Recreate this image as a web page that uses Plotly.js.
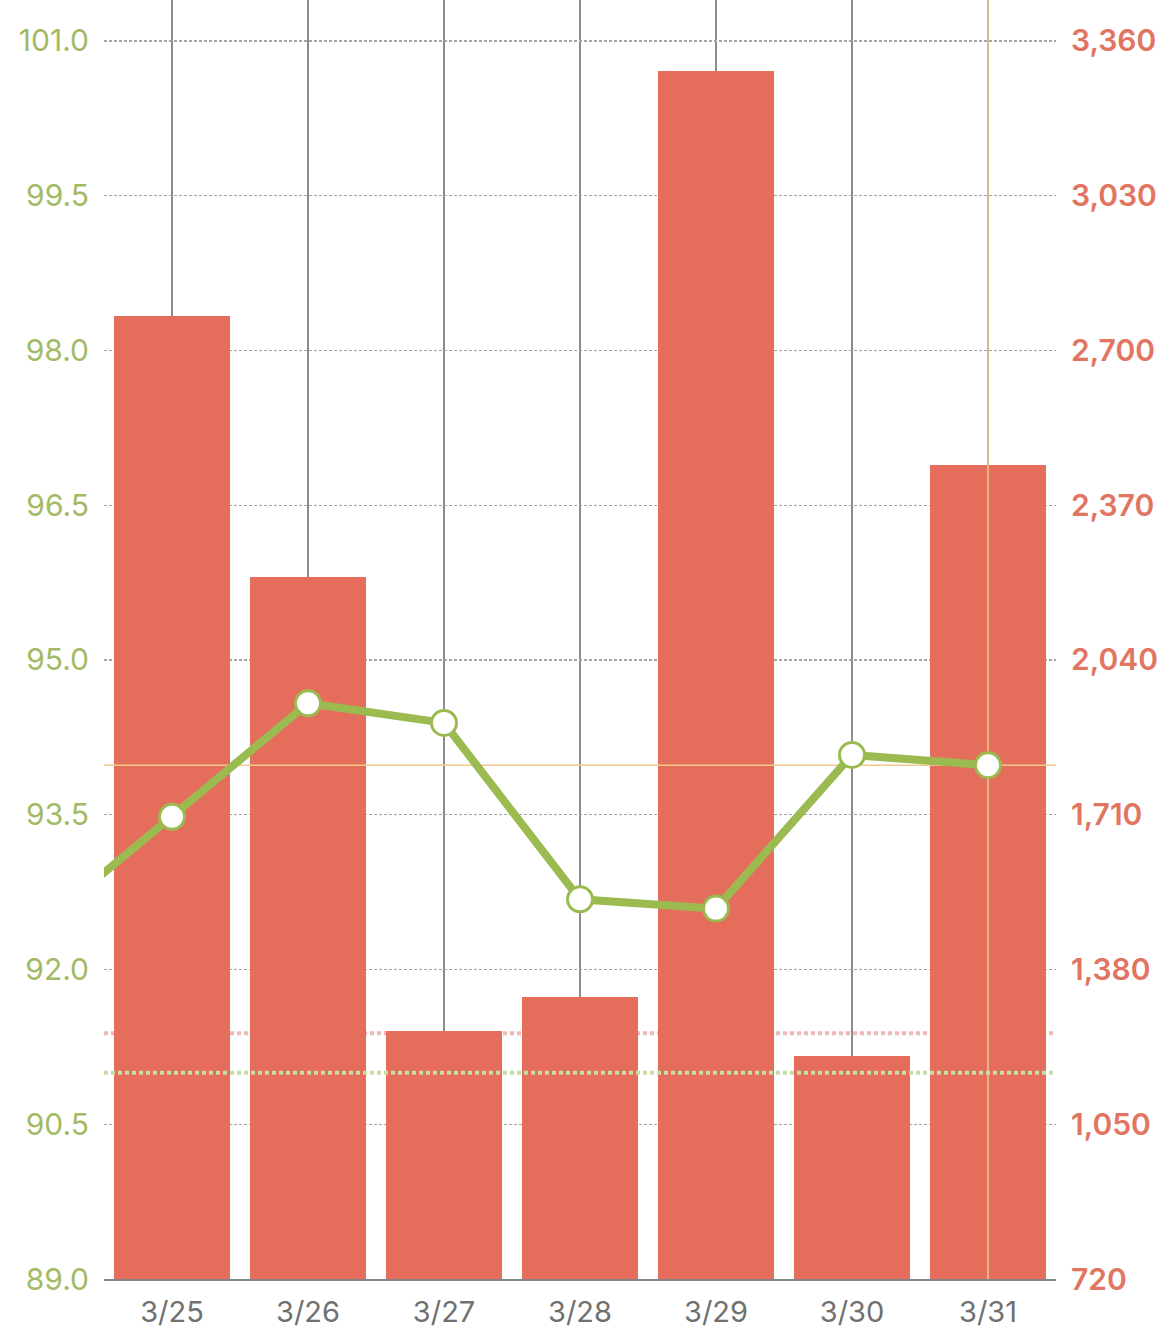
<!DOCTYPE html>
<html>
<head>
<meta charset="utf-8">
<script src="https://cdn.plot.ly/plotly-3.0.1.min.js"></script>
<style>
  html, body { margin: 0; padding: 0; background: #fff; }
  #plot { width: 1170px; height: 1341px; }
</style>
</head>
<body>
<div id="plot"></div>
<script>
// days shown on the axis, plus the day before (only its line segment peeks in)
const days = ['3/24', '3/25', '3/26', '3/27', '3/28', '3/29', '3/30', '3/31'];
const dayIndex = [-1, 0, 1, 2, 3, 4, 5, 6];

const calories = [null, 2774, 2217, 1249, 1321, 3296, 1196, 2456];
const weights = [92.39, 93.48, 94.58, 94.39, 92.68, 92.59, 94.08, 93.98];

const weightTicks = [89.0, 90.5, 92.0, 93.5, 95.0, 96.5, 98.0, 99.5, 101.0];
const calorieTicks = [720, 1050, 1380, 1710, 2040, 2370, 2700, 3030, 3360];

const calorieGoal = 1244;
const weightGoal = 91.0;

const selected = 7; // 3/31

const xRange = [-0.5, 6.5];
const weightRange = [89, 101.397];
const calorieRange = [720, 3447.4];

const green = 'rgb(155, 187, 80)';
const red = 'rgb(228, 110, 91)';
const cross = 'rgb(242, 200, 140)';

const bars = {
    x: dayIndex.slice(1),
    y: calories.slice(1),
    type: 'bar',
    width: 0.85,
    marker: { color: red, line: { width: 0 } },
    yaxis: 'y',
    hoverinfo: 'skip',
};

const crossV = {
    x: [dayIndex[selected], dayIndex[selected]],
    y: weightRange,
    mode: 'lines',
    line: { color: cross, width: 1.5 },
    yaxis: 'y2',
    hoverinfo: 'skip',
};

const crossH = {
    x: xRange,
    y: [weights[selected], weights[selected]],
    mode: 'lines',
    line: { color: cross, width: 1.5 },
    yaxis: 'y2',
    hoverinfo: 'skip',
};

const weightLine = {
    x: dayIndex,
    y: weights,
    mode: 'lines+markers',
    type: 'scatter',
    yaxis: 'y2',
    line: { color: green, width: 8 },
    marker: {
        color: '#fff',
        size: 25,
        line: { color: green, width: 3 },
    },
    hoverinfo: 'skip',
};

const fontFamily = 'Inter, "Open Sans", sans-serif';

const layout = {
    width: 1170,
    height: 1341,
    margin: { l: 104, r: 114, t: 0, b: 62 },
    paper_bgcolor: '#fff',
    plot_bgcolor: '#fff',
    showlegend: false,
    bargap: 0,
    xaxis: {
        range: xRange,
        tickvals: dayIndex.slice(1),
        ticktext: days.slice(1),
        showgrid: true,
        gridcolor: 'rgb(140, 140, 140)',
        gridwidth: 1.3,
        zeroline: false,
        showline: true,
        linecolor: 'rgb(130, 130, 130)',
        linewidth: 1.5,
        ticks: 'outside',
        ticklen: 7,
        tickcolor: 'rgba(0,0,0,0)',
        tickfont: { family: fontFamily, size: 29, color: 'rgb(112, 112, 112)' },
        fixedrange: true,
    },
    yaxis: {
        side: 'right',
        range: calorieRange,
        tickvals: calorieTicks,
        tickformat: ',d',
        showgrid: true,
        gridcolor: 'rgb(165, 165, 165)',
        gridwidth: 1.2,
        griddash: '3px,2px',
        zeroline: false,
        ticks: 'outside',
        ticklen: 8,
        tickcolor: 'rgba(0,0,0,0)',
        tickfont: { family: fontFamily, size: 30, weight: 600, color: 'rgb(226, 116, 98)' },
        fixedrange: true,
    },
    yaxis2: {
        side: 'left',
        overlaying: 'y',
        range: weightRange,
        tickvals: weightTicks,
        tickformat: '.1f',
        showgrid: false,
        zeroline: false,
        ticks: 'outside',
        ticklen: 8,
        tickcolor: 'rgba(0,0,0,0)',
        tickfont: { family: fontFamily, size: 30, color: 'rgb(163, 186, 100)' },
        fixedrange: true,
    },
    shapes: [
        {
            type: 'line', xref: 'paper', x0: 0, x1: 1,
            yref: 'y', y0: calorieGoal, y1: calorieGoal,
            line: { color: 'rgb(240, 185, 180)', width: 4, dash: '4px,3px' },
            layer: 'below',
        },
        {
            type: 'line', xref: 'paper', x0: 0, x1: 1,
            yref: 'y2', y0: weightGoal, y1: weightGoal,
            line: { color: 'rgb(200, 220, 165)', width: 4, dash: '4px,3px' },
            layer: 'above',
        },
    ],
};

const config = { displayModeBar: false, staticPlot: true };

Plotly.newPlot('plot', [bars, crossV, crossH, weightLine], layout, config);
</script>
</body>
</html>
